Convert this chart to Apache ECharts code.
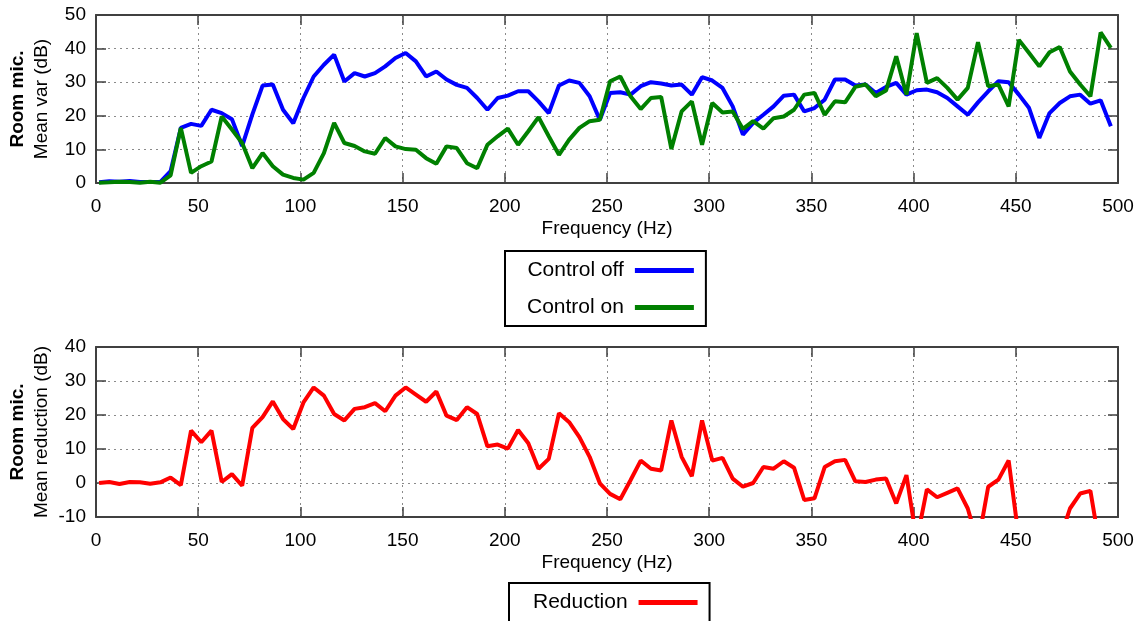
<!DOCTYPE html>
<html><head><meta charset="utf-8">
<script src="https://cdn.jsdelivr.net/npm/echarts@6/dist/echarts.min.js"></script>
<style>html,body{margin:0;padding:0;background:#fff}#c{width:1146px;height:621px}</style>
</head><body><div id="c"></div><script>
const freqs = [1.5,6.5,11.5,16.5,21.5,26.5,31.5,36.5,41.5,46.5,51.5,56.5,61.5,66.5,71.5,76.5,81.5,86.5,91.5,96.5,
101.5,106.5,111.5,116.5,121.5,126.5,131.5,136.5,141.5,146.5,151.5,156.5,161.5,166.5,171.5,176.5,181.5,186.5,191.5,196.5,
201.5,206.5,211.5,216.5,221.5,226.5,231.5,236.5,241.5,246.5,251.5,256.5,261.5,266.5,271.5,276.5,281.5,286.5,291.5,296.5,
301.5,306.5,311.5,316.5,321.5,326.5,331.5,336.5,341.5,346.5,351.5,356.5,361.5,366.5,371.5,376.5,381.5,386.5,391.5,396.5,
401.5,406.5,411.5,416.5,421.5,426.5,431.5,436.5,441.5,446.5,451.5,456.5,461.5,466.5,471.5,476.5,481.5,486.5,491.5,496.5];
const xTicks = [0,50,100,150,200,250,300,350,400,450,500];
const topYTicks = [0,10,20,30,40,50];
const bottomYTicks = [-10,0,10,20,30,40];
const controlOff = [0.2,0.5,0.4,0.6,0.3,0.3,0.3,3.5,16.4,17.6,17.0,21.8,20.8,19.0,11.0,20.4,29.0,29.3,21.8,17.8,
25.3,31.7,35.2,38.2,30.2,32.7,31.7,32.7,34.7,37.2,38.7,36.2,31.7,33.2,30.8,29.2,28.3,25.3,21.8,25.3,
26.0,27.3,27.3,24.3,20.8,29.0,30.5,29.8,25.8,18.8,26.8,27.0,26.3,28.8,30.0,29.6,29.0,29.3,26.3,31.5,
30.5,28.3,22.8,14.4,17.9,20.3,22.8,26.0,26.3,21.3,22.3,24.8,30.8,30.8,29.0,29.3,26.8,28.6,29.8,26.3,
27.6,27.8,27.0,25.3,22.8,20.3,24.0,27.3,30.3,30.0,26.3,22.3,13.4,20.8,23.8,25.8,26.3,23.6,24.6,16.9];
const controlOn = [0.1,0.2,0.4,0.3,0.1,0.4,0.1,2.3,16.4,3.0,5.0,6.4,19.8,15.9,11.9,4.4,8.9,5.0,2.5,1.5,
1.0,3.0,8.9,17.9,11.9,11.0,9.4,8.7,13.4,10.9,10.1,9.9,7.4,5.7,10.9,10.4,5.9,4.4,11.4,13.9,
16.2,11.4,15.4,19.6,13.9,8.4,12.9,16.4,18.4,18.8,30.3,31.7,25.8,22.0,25.3,25.6,10.1,21.3,24.3,11.4,
23.8,21.0,21.3,16.1,18.4,16.2,19.3,19.8,21.8,26.3,26.8,20.3,24.3,24.0,28.6,29.3,25.8,27.5,37.7,26.3,
44.6,29.8,31.2,28.3,24.8,28.3,41.9,28.8,29.3,22.8,42.6,38.7,34.7,38.9,40.5,33.2,29.3,25.8,44.8,40.2];
const reduction = [0.0,0.3,-0.3,0.3,0.2,-0.2,0.2,1.6,-0.6,15.4,12.0,15.4,0.3,2.6,-0.8,16.2,19.4,24.0,18.8,15.9,
23.7,28.1,25.7,20.3,18.4,21.8,22.3,23.5,21.1,25.7,28.1,26.0,23.9,26.9,19.8,18.5,22.3,20.3,10.8,11.3,
10.1,15.6,11.7,4.2,7.1,20.5,17.9,13.5,7.7,-0.1,-3.2,-4.8,0.8,6.6,4.2,3.7,18.4,7.7,2.0,18.4,
6.6,7.4,1.3,-1.1,0.0,4.7,4.2,6.4,4.5,-5.0,-4.5,4.7,6.4,6.8,0.5,0.3,1.0,1.3,-6.0,2.3,
-17.0,-1.9,-4.2,-2.9,-1.6,-7.5,-17.9,-1.1,1.0,6.6,-16.3,-16.4,-21.3,-18.1,-16.7,-7.5,-3.1,-2.3,-20.2,-23.3];

const FONT = "'Liberation Sans', Arial, sans-serif";
const pair = (xs, ys) => xs.map((x, i) => [x, ys[i]]);
const frameLine = {show: true, onZero: false, lineStyle: {color: '#404040', width: 2}};
const tick = {show: true, inside: true, length: 10, lineStyle: {color: '#404040', width: 1.5}};
const grid = {show: true, lineStyle: {color: '#8a8a8a', width: 1, type: [2, 4]}};
const lbl = {color: '#000', fontSize: 19, fontFamily: FONT};

function xAxes(gi, nameGap) {
  return [
    {gridIndex: gi, type: 'value', position: 'bottom', min: xTicks[0], max: xTicks[xTicks.length-1],
     interval: xTicks[1]-xTicks[0], axisLine: frameLine, axisTick: tick, splitLine: grid,
     axisLabel: Object.assign({margin: 14}, lbl),
     name: 'Frequency (Hz)', nameLocation: 'middle', nameGap: nameGap, nameMoveOverlap: false,
     nameTextStyle: {color: '#000', fontSize: 19, fontFamily: FONT}},
    {gridIndex: gi, type: 'value', position: 'top', min: xTicks[0], max: xTicks[xTicks.length-1],
     interval: xTicks[1]-xTicks[0], axisLine: frameLine, axisTick: tick, splitLine: {show: false},
     axisLabel: {show: false}}
  ];
}
function yAxes(gi, ticks, second, nameGap) {
  return [
    {gridIndex: gi, type: 'value', position: 'left', min: ticks[0], max: ticks[ticks.length-1],
     interval: ticks[1]-ticks[0], axisLine: frameLine, axisTick: tick, splitLine: grid,
     axisLabel: Object.assign({margin: 10}, lbl),
     name: '{b|Room mic.}\n{n|' + second + '}', nameLocation: 'middle', nameRotate: 90, nameGap: nameGap,
     nameMoveOverlap: false,
     nameTextStyle: {color: '#000', fontFamily: FONT, rich: {
       b: {fontWeight: 'bold', fontSize: 19, fontFamily: FONT, color: '#000', lineHeight: 24},
       n: {fontSize: 19, fontFamily: FONT, color: '#000', lineHeight: 24}}}},
    {gridIndex: gi, type: 'value', position: 'right', min: ticks[0], max: ticks[ticks.length-1],
     interval: ticks[1]-ticks[0], axisLine: frameLine, axisTick: tick, splitLine: {show: false},
     axisLabel: {show: false}}
  ];
}
const legendBase = {orient: 'vertical', align: 'right', icon: 'rect', itemWidth: 59, itemHeight: 5,
  itemGap: 16, borderColor: '#000', borderWidth: 2, selectedMode: false,
  textStyle: {color: '#000', fontSize: 21, fontFamily: FONT, padding: [0, 6, 0, 0]}};

const chart = echarts.init(document.getElementById('c'), null, {renderer: 'canvas'});
chart.setOption({
  animation: false,
  backgroundColor: '#fff',
  grid: [
    {left: 96, right: 28, top: 15, height: 168, outerBoundsMode: 'none', containLabel: false},
    {left: 96, right: 28, top: 347, height: 170, outerBoundsMode: 'none', containLabel: false}
  ],
  xAxis: xAxes(0, 36).concat(xAxes(1, 36)),
  yAxis: yAxes(0, topYTicks, 'Mean var (dB)', 42).concat(yAxes(1, bottomYTicks, 'Mean reduction (dB)', 42)),
  legend: [
    Object.assign({}, legendBase, {left: 505, top: 251, padding: [9, 12, 8, 22], data: ['Control off', 'Control on']}),
    Object.assign({}, legendBase, {left: 509, top: 583, padding: [9, 12, 9, 24], data: ['Reduction']})
  ],
  series: [
    {name: 'Control off', type: 'line', xAxisIndex: 0, yAxisIndex: 0, data: pair(freqs, controlOff),
     showSymbol: false, color: '#0000ff', lineStyle: {width: 4, color: '#0000ff'}},
    {name: 'Control on', type: 'line', xAxisIndex: 0, yAxisIndex: 0, data: pair(freqs, controlOn),
     showSymbol: false, color: '#008000', lineStyle: {width: 4, color: '#008000'}},
    {name: 'Reduction', type: 'line', xAxisIndex: 2, yAxisIndex: 2, data: pair(freqs, reduction),
     showSymbol: false, color: '#ff0000', lineStyle: {width: 4, color: '#ff0000'}, clip: true}
  ]
});
</script></body></html>
